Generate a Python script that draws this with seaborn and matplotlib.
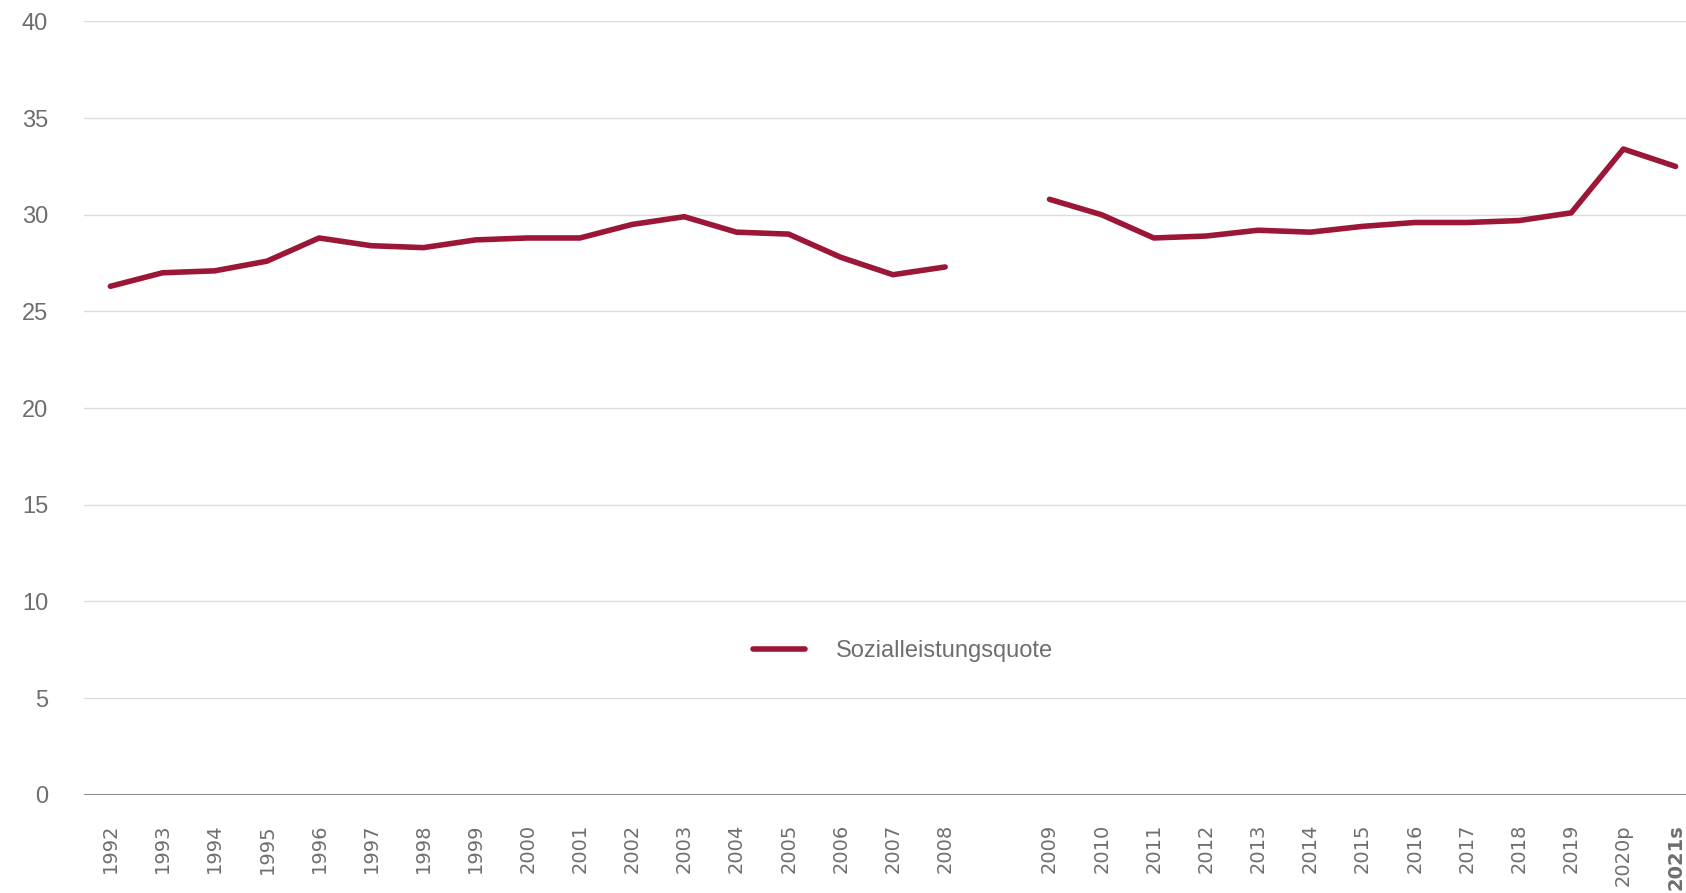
import numpy as np
import pandas as pd
import seaborn as sns
import matplotlib.pyplot as plt

# Jahre; leerer Eintrag = Bruch in der Zeitreihe zwischen 2008 und 2009
years = ["1992", "1993", "1994", "1995", "1996", "1997", "1998", "1999", "2000",
         "2001", "2002", "2003", "2004", "2005", "2006", "2007", "2008", "",
         "2009", "2010", "2011", "2012", "2013", "2014", "2015", "2016", "2017",
         "2018", "2019", "2020p", "2021s"]
quote = [26.3, 27.0, 27.1, 27.6, 28.8, 28.4, 28.3, 28.7, 28.8,
         28.8, 29.5, 29.9, 29.1, 29.0, 27.8, 26.9, 27.3, np.nan,
         30.8, 30.0, 28.8, 28.9, 29.2, 29.1, 29.4, 29.6, 29.6,
         29.7, 30.1, 33.4, 32.5]
series_name = "Sozialleistungsquote"
y_ticks = [0, 5, 10, 15, 20, 25, 30, 35, 40]

df = pd.DataFrame({"year": years, "quote": quote})
df["pos"] = np.arange(len(df))
df["segment"] = df["quote"].isna().cumsum()
df = df.dropna()

sns.set_style("white")
plt.rcParams["font.family"] = ["Liberation Sans", "DejaVu Sans"]

fig = plt.figure(figsize=(16.86, 8.93), dpi=100)
ax = fig.add_axes([0.05, 0.11, 0.95, 0.866])

sns.lineplot(data=df, x="pos", y="quote", units="segment", estimator=None,
             color="#9b1637", linewidth=4, ax=ax)

ax.set_ylim(0, 40)
ax.set_xlim(-0.5, 30.2)
ax.set_yticks(y_ticks)
ax.yaxis.grid(True, color="#dcdcdc", linewidth=1)
ax.set_axisbelow(True)
for s in ["top", "right", "left", "bottom"]:
    ax.spines[s].set_visible(False)
ax.axhline(0, color="#8c8c8c", linewidth=2.2, zorder=1)

ax.set_xticks(df["pos"])
ax.set_xticklabels(df["year"], rotation=90, family="DejaVu Sans",
                   fontsize=14, color="#6e6e6e")
ax.get_xticklabels()[-1].set_fontweight("bold")
ax.tick_params(axis="x", length=0, pad=21)
ax.tick_params(axis="y", length=0, pad=26, labelsize=17, labelcolor="#6e6e6e")
ax.set_xlabel("")
ax.set_ylabel("")

# nur ein Legendeneintrag für beide Segmente
handle = ax.get_lines()[0]
leg = ax.legend([handle], [series_name], loc="center left",
                bbox_to_anchor=(0.41, 0.186), frameon=False,
                fontsize=17, handlelength=2.2, handletextpad=1.3, borderpad=0)
for t in leg.get_texts():
    t.set_color("#6e6e6e")

plt.savefig("out.png", dpi=100)
